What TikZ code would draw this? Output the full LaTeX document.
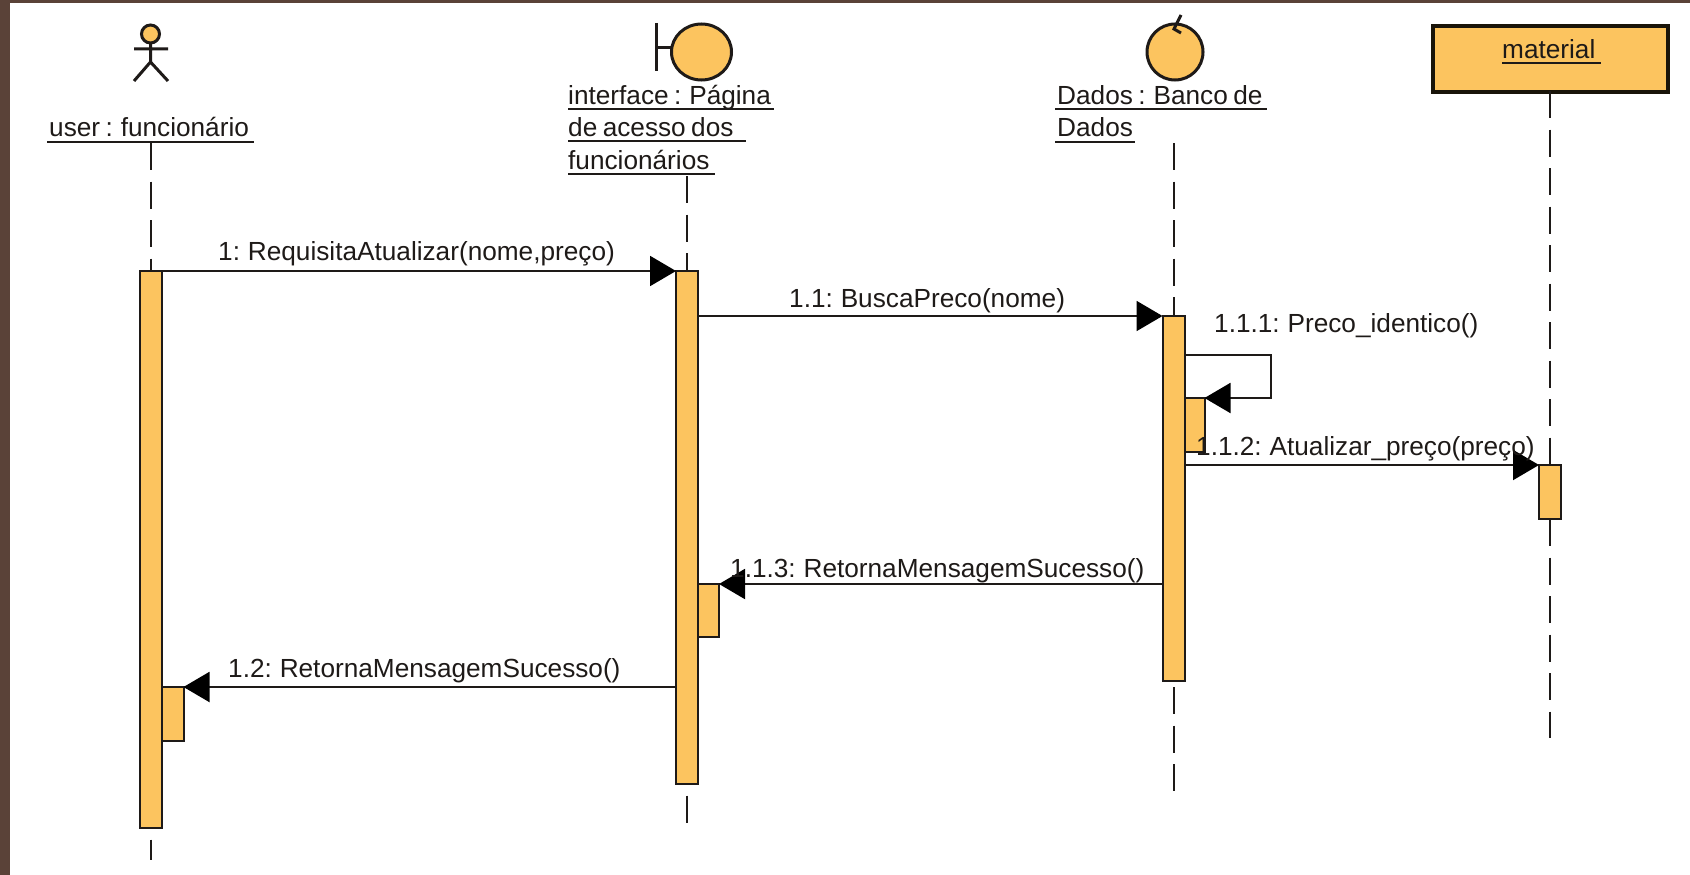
\documentclass[tikz,border=0pt]{standalone}
\usepackage{fontspec}
\setmainfont[WordSpace=0.75]{Liberation Sans}
\usetikzlibrary{arrows.meta}
\definecolor{fillor}{HTML}{FCC45F}
\definecolor{framec}{HTML}{5A4238}
\definecolor{inkc}{HTML}{1E1A18}
\tikzset{
  x=1pt,y=-1pt,
  act/.style={draw=inkc,line width=2pt,fill=fillor,anchor=north west,inner sep=0pt,outer sep=0pt},
  lifeline/.style={draw=inkc,line width=2pt,dash pattern=on 27pt off 11.5pt},
  msg/.style={draw=inkc,line width=2pt,-{Triangle[length=26pt,width=30pt,black]}},
  lbl/.style={font=\fontsize{26.2}{26.2}\selectfont,text=inkc,inner sep=0pt,anchor=base west},
  uline/.style={draw=inkc,line width=2pt},
  icon/.style={draw=inkc,line width=3pt,fill=fillor},
  stick/.style={draw=inkc,line width=3pt}
}
\newcommand{\actbox}[5]{\node[act,minimum width=#4pt,minimum height=#5pt] (#1) at (#2,#3) {};}
\begin{document}
\begin{tikzpicture}
\useasboundingbox (0,0) rectangle (1690,875);
\fill[white] (0,0) rectangle (1690,875);
\fill[framec] (0,0) rectangle (1690,3.5);
\fill[framec] (0,0) rectangle (10,875);
% actor
\draw[stick,fill=fillor] (150.5,34) circle (9);
\draw[stick] (134,49) -- (168,49) (150.5,43) -- (150.5,62) -- (134,81) (150.5,62) -- (168,81);
% boundary
\draw[stick] (656,23) -- (656,71) (656,48) -- (672,48);
\draw[icon] (701.5,52) ellipse (30 and 28);
% control
\draw[icon] (1175,52) ellipse (28 and 28);
\draw[stick] (1181,15) -- (1174,29) -- (1181,33);
% material box
\node[draw=black!90!fillor,line width=3.6pt,fill=fillor,anchor=north west,inner sep=0pt,minimum width=235pt,minimum height=66pt] (mat) at (1431,24) {};
\node[lbl] (matl) at (1502,59) {material};
\draw[uline] (1502,63.5) -- (1601,63.5);
% labels
\node[lbl] (ul) at (49,136) {user : funcionário};
\draw[uline] (47,142) -- (254,142);
\node[lbl] (il1) at (568,104) {interface : Página};
\draw[uline] (568,109) -- (774,109);
\node[lbl] (il2) at (568,136) {de acesso dos};
\draw[uline] (568,141) -- (746,141);
\node[lbl] (il3) at (568,169) {funcionários};
\draw[uline] (568,174) -- (715,174);
\node[lbl] (dl1) at (1057,104) {Dados : Banco de};
\draw[uline] (1055,109) -- (1267,109);
\node[lbl] (dl2) at (1057,136) {Dados};
\draw[uline] (1055,142) -- (1135,142);
% activations
\actbox{au}{139.5}{271}{22}{557}
\actbox{ai}{676}{271}{22}{513}
\actbox{ad}{1162.5}{316}{22}{365}
\actbox{am}{1539}{465}{22}{54}
\actbox{nd}{1184.5}{398}{20}{54}
\actbox{ni}{698}{584}{21}{53}
\actbox{nu}{161.5}{687}{22}{54}
% lifelines
\coordinate (u0) at (150.5,143);
\coordinate (i0) at (687,176);
\coordinate (d0) at (1173.5,143);
\coordinate (m0) at (1550,91);
\coordinate (u1) at (150.5,860);
\coordinate (i1) at (687,824);
\coordinate (d1) at (1173.5,792);
\coordinate (m1) at (1550,738);
\draw[lifeline] (u0) -- (au.north);
\draw[lifeline] (i0) -- (ai.north);
\draw[lifeline] (d0) -- (ad.north);
\draw[lifeline] (m0) -- (am.north);
\draw[lifeline,dash phase=27pt] (au.south) -- (u1);
\draw[lifeline,dash phase=27pt] (ai.south) -- (i1);
\draw[lifeline,dash phase=32.5pt] (ad.south) -- (d1);
\draw[lifeline] (am.south) -- (m1);
% messages
\draw[msg] (au.north east) -- (ai.north west);
\draw[msg] (ai.east |- ad.north) -- (ad.north west);
\coordinate (loop) at (1271,355);
\draw[msg] (ad.east |- loop) -- (loop) |- (nd.north east);
\draw[msg] (ad.east |- am.north) -- (am.north west);
\draw[msg] (ad.west |- ni.north) -- (ni.north east);
\draw[msg] (ai.west |- nu.north) -- (nu.north east);
% message labels
\node[lbl] (t1) at (218,260) {1: RequisitaAtualizar(nome,preço)};
\node[lbl] (t2) at (789,307) {1.1: BuscaPreco(nome)};
\node[lbl] (t3) at (1214,332) {1.1.1: Preco\_identico()};
\node[lbl] (t4) at (1196,455) {1.1.2: Atualizar\_preço(preço)};
\node[lbl] (t5) at (730,577) {1.1.3: RetornaMensagemSucesso()};
\node[lbl] (t6) at (228,677) {1.2: RetornaMensagemSucesso()};
\end{tikzpicture}
\end{document}
